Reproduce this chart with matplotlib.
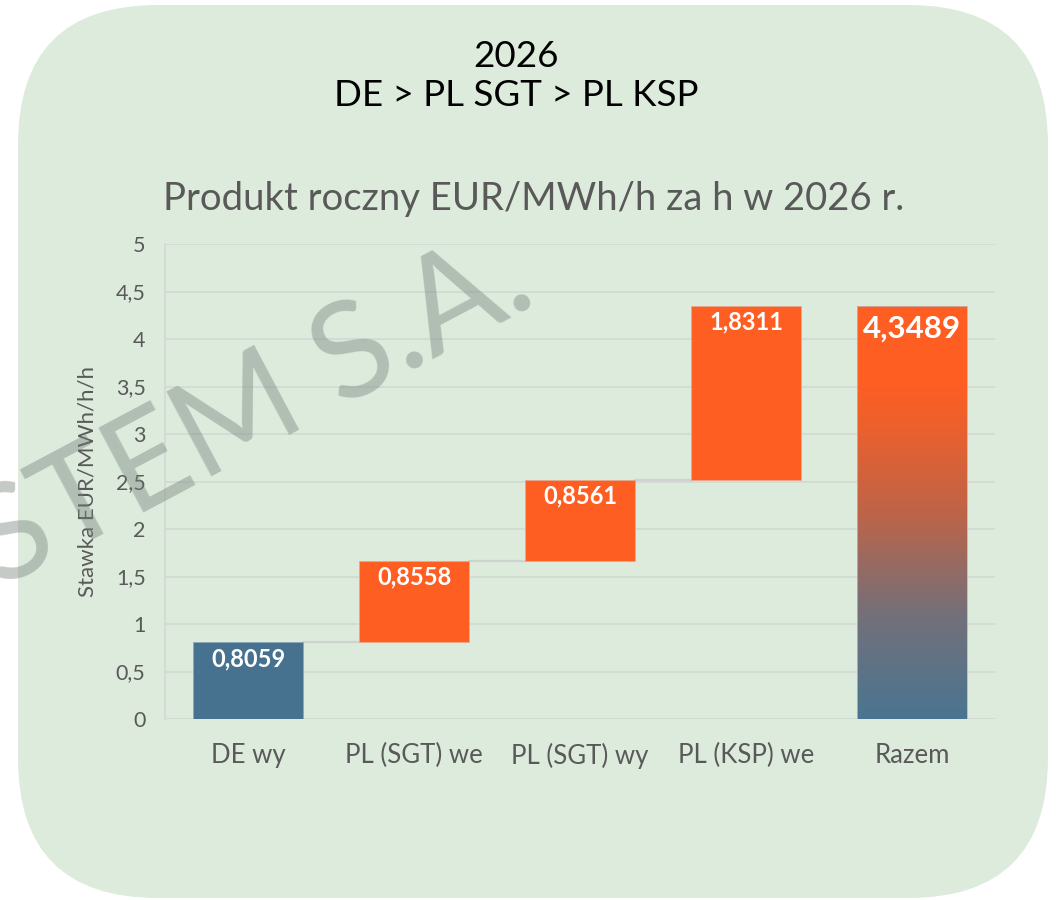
import numpy as np
import matplotlib
matplotlib.use("Agg")
import matplotlib.pyplot as plt
from matplotlib.patches import FancyBboxPatch, Rectangle
from matplotlib.colors import LinearSegmentedColormap

plt.rcParams['font.family'] = ['Lato', 'DejaVu Sans']

# ---- data ----
categories = ["DE wy", "PL (SGT) we", "PL (SGT) wy", "PL (KSP) we", "Razem"]
steps = [0.8059, 0.8558, 0.8561, 1.8311]
total = 4.3489
step_labels = ["0,8059", "0,8558", "0,8561", "1,8311"]
total_label = "4,3489"
yticks = [0, 0.5, 1, 1.5, 2, 2.5, 3, 3.5, 4, 4.5, 5]
ytick_labels = ["0", "0,5", "1", "1,5", "2", "2,5", "3", "3,5", "4", "4,5", "5"]
title_main = "2026\nDE > PL SGT > PL KSP"
chart_title = "Produkt roczny EUR/MWh/h za h w 2026 r."
ylabel = "Stawka EUR/MWh/h/h"
watermark = "STEM S.A."

BG = "#DCEBDC"
BLUE = "#46718F"
ORANGE = "#FF5E22"
GRAY_TXT = "#595959"
GRID = "#D3D8D3"

W, H = 1059, 900
fig = plt.figure(figsize=(W / 100, H / 100), dpi=100)
fig.patch.set_facecolor("white")

# background rounded panel
R = 140
bg = fig.add_axes([0, 0, 1, 1], zorder=-5)
bg.set_xlim(0, W)
bg.set_ylim(H, 0)
bg.axis("off")
bg.add_patch(FancyBboxPatch((18 + R, 5 + R), 1048 - 18 - 2 * R, 898 - 5 - 2 * R,
                            boxstyle="round,pad=%d" % R, fc=BG, ec="none"))

fig.text(516 / W, 1 - 76 / H, title_main, ha="center", va="center",
         fontsize=26.5, color="black", linespacing=1.2)
fig.text(534 / W, 1 - 199 / H, chart_title, ha="center", va="center",
         fontsize=27.5, color=GRAY_TXT)

ax = fig.add_axes([165 / W, 1 - 719 / H, (995 - 165) / W, (719 - 244) / H])
ax.set_facecolor("none")
x = np.arange(len(categories))
bw = 0.66

cum = np.cumsum(steps)
bottoms = np.concatenate([[0], cum[:-1]])

for i, (b, h) in enumerate(zip(bottoms, steps)):
    col = BLUE if i == 0 else ORANGE
    ax.bar(x[i], h, bottom=b, width=bw, color=col, edgecolor="#E8A890" if i else "#8FA8B8",
           linewidth=0.6, zorder=3)
    ax.text(x[i], b + h - 0.17, step_labels[i], ha="center", va="center",
            color="white", fontsize=17, fontweight="bold", zorder=5)

# connectors between step bars
for i in range(len(steps) - 1):
    ax.plot([x[i] + bw / 2, x[i + 1] - bw / 2], [cum[i], cum[i]],
            color="#CFD3CF", lw=1.6, zorder=2)

# total bar with gradient
rect = Rectangle((x[-1] - bw / 2, 0), bw, total, fc="none", ec="#C9B0A8", lw=0.6, zorder=4)
ax.add_patch(rect)
cmap = LinearSegmentedColormap.from_list("g", [
    (0.0, (74 / 255, 117 / 255, 145 / 255)),
    (0.25, (115 / 255, 112 / 255, 122 / 255)),
    (0.5, (190 / 255, 100 / 255, 72 / 255)),
    (0.72, (238 / 255, 96 / 255, 44 / 255)),
    (0.82, (255 / 255, 94 / 255, 34 / 255)),
    (1.0, (255 / 255, 94 / 255, 34 / 255)),
])
grad = np.linspace(0, 1, 256).reshape(-1, 1)
im = ax.imshow(grad, cmap=cmap, origin="lower", aspect="auto",
               extent=[x[-1] - bw / 2, x[-1] + bw / 2, 0, total], zorder=3)
im.set_clip_path(rect)
ax.text(x[-1], total - 0.24, total_label, ha="center", va="center",
        color="white", fontsize=22.5, fontweight="bold", zorder=5)

ax.set_xlim(-0.5, len(categories) - 0.5)
ax.set_ylim(0, 5)
ax.set_yticks(yticks)
ax.set_yticklabels(ytick_labels)
ax.set_xticks(x)
ax.set_xticklabels(categories)
ax.tick_params(axis="both", length=0, colors=GRAY_TXT)
ax.tick_params(axis="y", pad=14, labelsize=15.5)
ax.tick_params(axis="x", pad=17, labelsize=18.5)
ax.grid(axis="y", color=GRID, lw=1.2, zorder=0)
ax.set_axisbelow(True)
for s in ["top", "right", "bottom"]:
    ax.spines[s].set_visible(False)
ax.spines["left"].set_color(GRID)
ax.spines["left"].set_linewidth(1.2)
ax.set_ylabel(ylabel, fontsize=16, color=GRAY_TXT, labelpad=13)

# watermark
fig.text(252 / W, 1 - 412 / H, watermark, ha="center", va="center", rotation=28,
         rotation_mode="anchor", fontsize=96, color="#76807A", alpha=0.42,
         zorder=10)

fig.savefig("out.png", dpi=100, facecolor="white")
